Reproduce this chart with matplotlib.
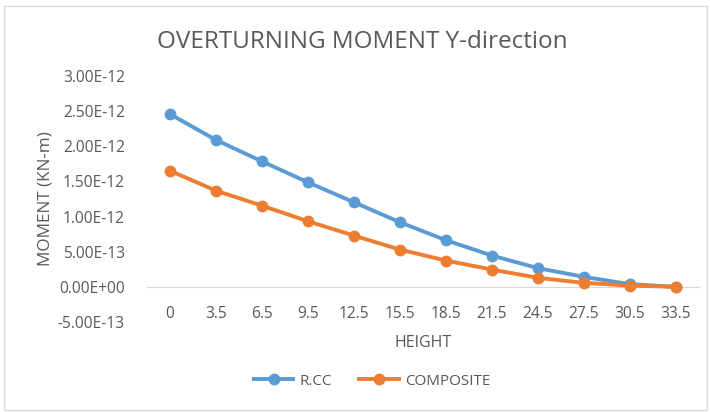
import numpy as np
import matplotlib.pyplot as plt
from matplotlib.patches import Rectangle
from matplotlib.ticker import FuncFormatter

plt.rcParams['font.family'] = ['Open Sans', 'DejaVu Sans']

# data
height = ['0', '3.5', '6.5', '9.5', '12.5', '15.5', '18.5', '21.5', '24.5', '27.5', '30.5', '33.5']
rcc = [2.457e-12, 2.09e-12, 1.785e-12, 1.487e-12, 1.203e-12, 0.919e-12,
       0.663e-12, 0.445e-12, 0.266e-12, 0.142e-12, 0.038e-12, 0.0]
composite = [1.652e-12, 1.368e-12, 1.155e-12, 0.933e-12, 0.729e-12, 0.530e-12,
             0.374e-12, 0.246e-12, 0.128e-12, 0.057e-12, 0.018e-12, 0.0]

grey = '#595959'

fig = plt.figure(figsize=(7.1, 4.12), dpi=100)
ax = fig.add_axes([147/710, 90/412, 552/710, 246/412])

x = np.arange(len(height))
ax.plot(x, rcc, color='#5b9bd5', lw=2.8, marker='o', ms=7.5, label='R.CC')
ax.plot(x, composite, color='#ed7d31', lw=2.8, marker='o', ms=7.5, label='COMPOSITE')

ax.set_xlim(-0.5, len(height) - 0.5)
ax.set_ylim(-5e-13, 3e-12)
ax.set_yticks(np.arange(-5e-13, 3.01e-12, 5e-13))
ax.yaxis.set_major_formatter(FuncFormatter(lambda v, p: '%.2E' % v if abs(v) > 1e-20 else '0.00E+00'))
ax.set_xticks(x)
ax.set_xticklabels(height)

# excel style: category axis crossing at zero, no other spines
for s in ['left', 'right', 'top']:
    ax.spines[s].set_visible(False)
ax.spines['bottom'].set_position(('data', 0))
ax.spines['bottom'].set_color('#d9d9d9')
ax.spines['bottom'].set_zorder(0)
ax.tick_params(length=0, labelsize=11.2, colors=grey)
ax.tick_params(axis='y', pad=16)
ax.tick_params(axis='x', pad=14)

ax.set_xlabel('HEIGHT', fontsize=11.5, color=grey, labelpad=9)
ax.set_ylabel('MOMENT (KN-m)', fontsize=12.3, color=grey, labelpad=3)

fig.text(362/710, 370/412, 'OVERTURNING MOMENT Y-direction',
         ha='center', va='center', fontsize=17.5, color=grey)

ax.legend(loc='center', bbox_to_anchor=(0.408, -0.24), ncol=2, frameon=False,
          fontsize=11, labelcolor=grey, handlelength=2.6, columnspacing=1.8,
          handletextpad=0.4)

fig.patches.append(Rectangle((4/710, 2/412), 703/710, 404/412, transform=fig.transFigure,
                             fill=False, edgecolor='#d9d9d9', lw=1))

fig.savefig('out.png', dpi=100)
